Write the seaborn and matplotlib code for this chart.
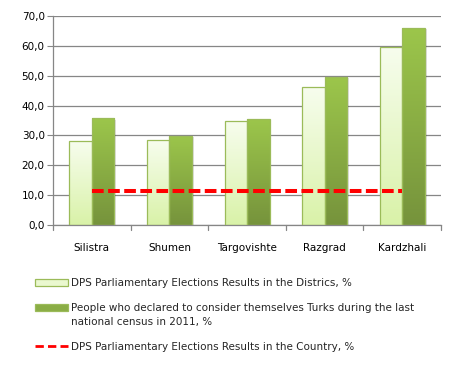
import matplotlib
matplotlib.use("Agg")
import matplotlib.pyplot as plt
import matplotlib.patches as mpatches
from matplotlib.lines import Line2D
import numpy as np
import pandas as pd
import seaborn as sns

# dados
distritos = ["Silistra", "Shumen", "Targovishte", "Razgrad", "Kardzhali"]
dps_distritos = [28.0, 28.4, 34.7, 46.1, 59.5]
turcos_censo = [35.7, 29.9, 35.5, 49.5, 65.9]
dps_pais = [11.3, 11.3, 11.3, 11.3, 11.3]

rotulo_1 = "DPS Parliamentary Elections Results in the Districs, %"
rotulo_2 = ("People who declared to consider themselves Turks during the last\n"
            "national census in 2011, %")
rotulo_3 = "DPS Parliamentary Elections Results in the Country, %"

df = pd.DataFrame({
    "Distrito": distritos * 2,
    "Valor": dps_distritos + turcos_censo,
    "Serie": [rotulo_1] * 5 + [rotulo_2] * 5,
})

sns.set_theme(style="white")
plt.rcParams["font.family"] = ["DejaVu Sans"]

fig = plt.figure(figsize=(4.51, 3.76), dpi=100)
ax = fig.add_axes([0.1175, 0.4016, 0.8605, 0.5558])

sns.barplot(data=df, x="Distrito", y="Valor", hue="Serie", order=distritos,
            palette=["#eef9d8", "#8aad45"], width=0.58, gap=0,
            edgecolor="#9bbb59", linewidth=0.9, legend=False, ax=ax)

# gradientes nas barras (topo -> base)
grad = np.linspace(0, 1, 256).reshape(-1, 1)
cores = [("#f7fdee", "#d9f2a8"), ("#9cc64b", "#76933c")]
barras = [p for p in ax.patches if isinstance(p, mpatches.Rectangle)]
for i, p in enumerate(barras):
    c_topo, c_base = cores[0] if i < 5 else cores[1]
    cmap = matplotlib.colors.LinearSegmentedColormap.from_list("g", [c_topo, c_base])
    x0, y0 = p.get_x(), p.get_y()
    w, h = p.get_width(), p.get_height()
    # sombra leve
    ax.add_patch(mpatches.Rectangle((x0 + 0.025, y0), w, h - 0.4, color="#000000",
                                    alpha=0.12, lw=0, zorder=1.5))
    im = ax.imshow(grad, extent=[x0, x0 + w, y0, y0 + h], cmap=cmap,
                   aspect="auto", zorder=2, interpolation="bilinear", origin="upper")
    im.set_clip_path(p)
    p.set_facecolor("none")
    p.set_zorder(3)

sns.lineplot(x=distritos, y=dps_pais, color="#ff0000", lw=2.9, ax=ax,
             zorder=4, dashes=False, sort=False)
ax.lines[-1].set_linestyle((0, (2.9, 1.1)))

ax.set_xlim(-0.5, 4.5)
ax.set_ylim(0, 70)
ax.set_yticks(np.arange(0, 71, 10))
ax.set_yticklabels([f"{v:.1f}".replace(".", ",") for v in np.arange(0, 71, 10)],
                   fontsize=7.5, color="#000000")
ax.set_xticks(range(5))
ax.set_xticklabels(distritos, fontsize=7.5, color="#000000")
ax.tick_params(axis="x", length=0, pad=13)
ax.tick_params(axis="y", length=4, width=0.8, color="#868686", pad=2, direction="out", left=True)
ax.grid(axis="y", color="#868686", lw=0.9)
ax.set_axisbelow(True)
ax.set_xlabel("")
ax.set_ylabel("")
for s in ["top", "right"]:
    ax.spines[s].set_visible(False)
for s in ["left", "bottom"]:
    ax.spines[s].set_color("#868686")
    ax.spines[s].set_linewidth(0.9)
# marcas entre categorias
for xb in np.arange(-0.5, 4.6, 1.0):
    ax.plot([xb, xb], [0, -1.7], color="#868686", lw=0.9, clip_on=False, zorder=5)

handles = [
    mpatches.Patch(facecolor="#eaf8cf", edgecolor="#9bbb59", lw=0.9),
    mpatches.Patch(facecolor="#8aad45", edgecolor="#9bbb59", lw=0.9),
    Line2D([0], [0], color="#ff0000", lw=2, linestyle=(0, (3, 1.5))),
]
leg = fig.legend(handles, [rotulo_1, rotulo_2, rotulo_3], loc="upper left",
                 bbox_to_anchor=(0.068, 0.272), frameon=False, fontsize=7.5,
                 handlelength=3.2, handleheight=0.6, handletextpad=0.3,
                 labelspacing=1.45, borderaxespad=0)
leg.get_texts()[1].set_linespacing(1.45)
# a marca da segunda entrada fica alinhada com a primeira linha do texto
h2 = leg.legend_handles[1]
h2.set_y(h2.get_y() + 5.5)

fig.savefig("out.png", dpi=100)
